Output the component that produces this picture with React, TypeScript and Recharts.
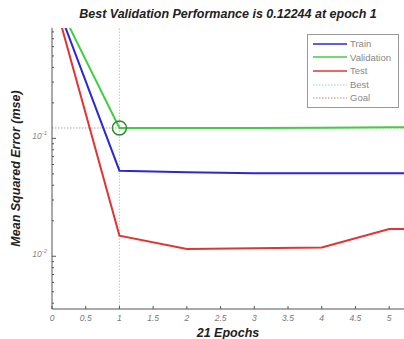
import React from 'react';
import { LineChart, Line, XAxis, YAxis, ReferenceLine, ReferenceDot, Label } from 'recharts';

const epochs = [0, 1, 2, 3, 4, 5, 6];
const trainMse = [1.75, 0.0532, 0.0516, 0.0506, 0.0506, 0.0506, 0.0500];
const validationMse = [1.75, 0.12244, 0.1225, 0.1226, 0.1228, 0.124, 0.126];
const testMse = [1.75, 0.01496, 0.01155, 0.0117, 0.01185, 0.0170, 0.0170];

const bestEpoch = 1;
const bestValue = 0.12244;
const xTicks = [0, 0.5, 1, 1.5, 2, 2.5, 3, 3.5, 4, 4.5, 5];
const yMajorTicks = [0.1, 0.01];
const yTicks = [
  0.004, 0.005, 0.006, 0.007, 0.008, 0.009, 0.01,
  0.02, 0.03, 0.04, 0.05, 0.06, 0.07, 0.08, 0.09, 0.1,
  0.2, 0.3, 0.4, 0.5, 0.6, 0.7, 0.8,
];
const yExponents: Record<string, string> = { '0.1': '-1', '0.01': '-2' };
const legendItems = [
  { name: 'Train', color: '#2a2ad0', dash: '' },
  { name: 'Validation', color: '#44cc44', dash: '' },
  { name: 'Test', color: '#e03535', dash: '' },
  { name: 'Best', color: '#88d8d0', dash: '1.5 1.5' },
  { name: 'Goal', color: '#c08080', dash: '1.5 1.5' },
];

const data = epochs.map((e, i) => ({
  epoch: e,
  train: trainMse[i],
  validation: validationMse[i],
  test: testMse[i],
}));

const FONT = '"Liberation Sans", Arial, sans-serif';

const XTick = (props: any) => {
  const { x, y, payload } = props;
  return (
    <g>
      <line x1={x} x2={x} y1={y} y2={y - 3} stroke="#555" strokeWidth={1} />
      <text x={x} y={y + 12} textAnchor="middle" fontSize={8.5} fontStyle="italic" fill="#777" fontFamily={FONT}>
        {payload.value}
      </text>
    </g>
  );
};

const YTick = (props: any) => {
  const { x, y, payload } = props;
  const major = yMajorTicks.includes(payload.value);
  return (
    <g>
      <line x1={x} x2={x + (major ? 4 : 2)} y1={y} y2={y} stroke="#555" strokeWidth={1} />
      {major && (
        <text x={x - 5} y={y + 1} textAnchor="end" fontSize={8.5} fill="#888" fontFamily={FONT} fontStyle="italic">
          10
          <tspan dy={-4} fontSize={6}>{yExponents[String(payload.value)]}</tspan>
        </text>
      )}
    </g>
  );
};

const LegendBox = () => (
  <div
    style={{
      position: 'absolute',
      left: 307,
      top: 34,
      border: '1px solid #999',
      background: '#fff',
      padding: '2px 3px',
      width: 84,
      fontFamily: FONT,
      fontSize: 9.5,
      color: '#888',
      lineHeight: '13.6px',
    }}
  >
    {legendItems.map((it) => (
      <div key={it.name} style={{ display: 'flex', alignItems: 'center' }}>
        <svg width={36} height={6} style={{ marginRight: 3 }}>
          <line x1={2} x2={36} y1={3} y2={3} stroke={it.color} strokeWidth={it.dash ? 1 : 1.5} strokeDasharray={it.dash || undefined} />
        </svg>
        <span>{it.name}</span>
      </div>
    ))}
  </div>
);

export default function App() {
  return (
    <div style={{ position: 'absolute', left: 0, top: 0, width: 404, height: 339, background: '#fff' }}>
      <div
        style={{
          position: 'absolute',
          left: 52,
          width: 352,
          top: 7,
          textAlign: 'center',
          fontFamily: FONT,
          fontWeight: 'bold',
          fontStyle: 'italic',
          fontSize: 12.5,
          color: '#222',
        }}
      >
        Best Validation Performance is 0.12244 at epoch 1
      </div>
      <LineChart width={404} height={339} data={data} margin={{ top: 28, right: 0, bottom: 0, left: 0 }}>
        <XAxis
          dataKey="epoch"
          type="number"
          domain={[0, 5.22]}
          allowDataOverflow
          ticks={xTicks}
          interval={0}
          height={30}
          tickSize={0}
          tickMargin={0}
          tickLine={false}
          tick={<XTick />}
          stroke="#555"
        >
          <Label
            value="21 Epochs"
            position="insideBottom"
            offset={2}
            style={{ fontFamily: FONT, fontWeight: 'bold', fontStyle: 'italic', fontSize: 12.5, fill: '#222' }}
          />
        </XAxis>
        <YAxis
          type="number"
          scale="log"
          domain={[0.00357, 0.863]}
          allowDataOverflow
          ticks={yTicks}
          interval={0}
          width={52}
          tickSize={0}
          tickMargin={0}
          tickLine={false}
          tick={<YTick />}
          stroke="#555"
        >
          <Label
            value="Mean Squared Error  (mse)"
            angle={-90}
            position="insideLeft"
            offset={16}
            style={{ textAnchor: 'middle', fontFamily: FONT, fontWeight: 'bold', fontStyle: 'italic', fontSize: 12.5, fill: '#222' }}
          />
        </YAxis>
        <ReferenceLine x={bestEpoch} stroke="#9adcd0" strokeDasharray="1.5 1.5" strokeWidth={1} />
        <ReferenceLine y={bestValue} stroke="#aaa" strokeDasharray="1.5 1.5" strokeWidth={1} />
        <Line type="linear" dataKey="test" stroke="#e03535" strokeWidth={2} dot={false} isAnimationActive={false} />
        <Line type="linear" dataKey="train" stroke="#2a2ad0" strokeWidth={2} dot={false} isAnimationActive={false} />
        <Line type="linear" dataKey="validation" stroke="#44cc44" strokeWidth={2} dot={false} isAnimationActive={false} />
        <ReferenceDot x={bestEpoch} y={bestValue} r={7} fill="none" stroke="#2d8a2d" strokeWidth={1.5} />
      </LineChart>
      <LegendBox />
    </div>
  );
}
